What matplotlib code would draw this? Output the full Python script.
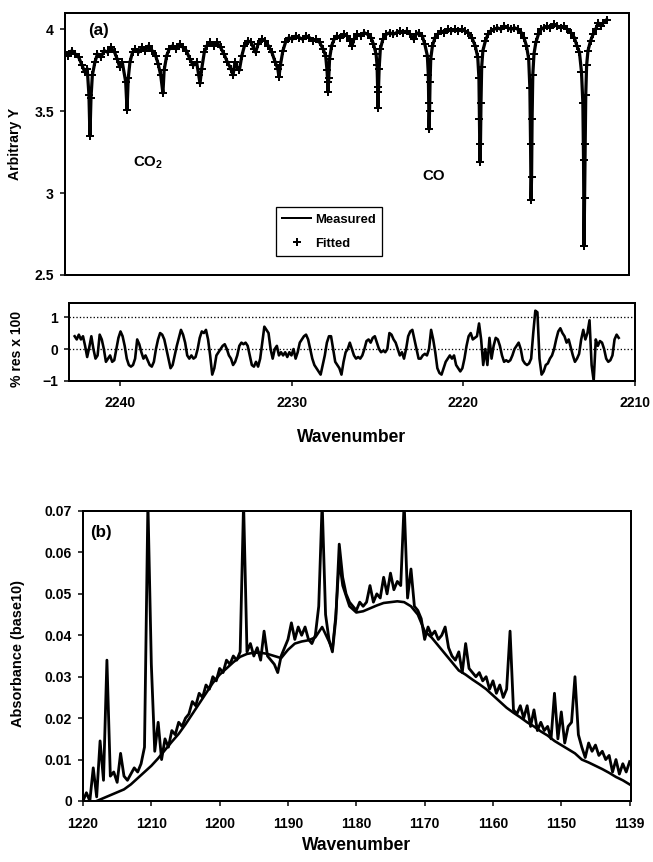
import numpy as np
import matplotlib.pyplot as plt

plt.rcParams['font.family'] = ['Liberation Sans', 'DejaVu Sans']
plt.rcParams['font.weight'] = 'bold'
plt.rcParams['mathtext.fontset'] = 'custom'
plt.rcParams['mathtext.rm'] = 'Liberation Sans:bold'
plt.rcParams['mathtext.bf'] = 'Liberation Sans:bold'
plt.rcParams['axes.linewidth'] = 2

# ---- (a) CO2 / CO spectrum, measured (line) and fitted (+) ----
top_wn = [2243.0, 2242.8, 2242.6, 2242.4, 2242.2, 2242.0, 2241.85, 2241.7, 2241.6, 2241.54, 2241.48, 2241.4, 2241.25, 2241.1,
          2240.9, 2240.7, 2240.5, 2240.3, 2240.1, 2239.95, 2239.8, 2239.65, 2239.45, 2239.37, 2239.3, 2239.2, 2239.05,
          2238.9, 2238.7, 2238.5, 2238.3, 2238.1, 2237.9, 2237.7, 2237.55, 2237.4, 2237.27, 2237.2, 2237.05,
          2236.9, 2236.7, 2236.5, 2236.3, 2236.1, 2235.9, 2235.7, 2235.5, 2235.3, 2235.18, 2235.1, 2235.0, 2234.85,
          2234.7, 2234.5, 2234.3, 2234.1, 2233.9, 2233.7, 2233.5, 2233.3, 2233.17, 2233.05, 2232.95, 2232.8, 2232.65,
          2232.5, 2232.3, 2232.1, 2231.95, 2231.85, 2231.7, 2231.5, 2231.3, 2231.1, 2230.9, 2230.7, 2230.55, 2230.48, 2230.4, 2230.25,
          2230.1, 2229.9, 2229.7, 2229.5, 2229.3, 2229.1, 2228.9, 2228.7, 2228.5, 2228.3, 2228.1, 2227.9, 2227.75, 2227.67, 2227.63, 2227.61, 2227.57, 2227.52, 2227.4,
          2227.25, 2227.1, 2226.9, 2226.7, 2226.5, 2226.3, 2226.2, 2226.1, 2225.9, 2225.7, 2225.5, 2225.3, 2225.1, 2224.95, 2224.8, 2224.74, 2224.71, 2224.69, 2224.66, 2224.62, 2224.55,
          2224.4, 2224.2, 2224.0, 2223.8, 2223.6, 2223.4, 2223.2, 2223.0, 2222.8, 2222.6, 2222.45, 2222.3, 2222.1, 2221.95, 2221.8, 2221.74, 2221.72, 2221.7, 2221.67, 2221.64, 2221.6, 2221.5,
          2221.35, 2221.2, 2221.0, 2220.8, 2220.6, 2220.4, 2220.2, 2220.0, 2219.8, 2219.6, 2219.4, 2219.2, 2219.0, 2218.85, 2218.78, 2218.75, 2218.72, 2218.69, 2218.66, 2218.62, 2218.55, 2218.4,
          2218.25, 2218.1, 2217.9, 2217.7, 2217.5, 2217.3, 2217.1, 2216.9, 2216.7, 2216.5, 2216.3, 2216.15, 2216.0, 2215.87, 2215.8, 2215.76, 2215.73, 2215.7, 2215.67, 2215.63, 2215.56, 2215.45,
          2215.3, 2215.15, 2215.0, 2214.8, 2214.6, 2214.4, 2214.2, 2214.0, 2213.8, 2213.6, 2213.4, 2213.2, 2213.05, 2212.9, 2212.78, 2212.7, 2212.66, 2212.63, 2212.6, 2212.57, 2212.53, 2212.48, 2212.4, 2212.25, 2212.1, 2211.95, 2211.8, 2211.65, 2211.5, 2211.3]
top_meas = [3.86, 3.84, 3.87, 3.85, 3.83, 3.78, 3.74, 3.76, 3.6, 3.35, 3.58, 3.72, 3.8, 3.85,
            3.83, 3.87, 3.86, 3.89, 3.86, 3.82, 3.77, 3.8, 3.68, 3.51, 3.7, 3.8, 3.86,
            3.88, 3.86, 3.89, 3.87, 3.9, 3.87, 3.84, 3.79, 3.72, 3.61, 3.75, 3.84,
            3.88, 3.9, 3.88, 3.91, 3.89, 3.87, 3.82, 3.78, 3.8, 3.72, 3.67, 3.76, 3.86,
            3.9, 3.92, 3.9, 3.92, 3.89, 3.85, 3.8, 3.76, 3.72, 3.8, 3.77, 3.75, 3.84,
            3.9, 3.93, 3.92, 3.88, 3.86, 3.91, 3.94, 3.93, 3.9, 3.86, 3.8, 3.76, 3.71, 3.78, 3.87,
            3.92, 3.95, 3.94, 3.96, 3.95, 3.94, 3.96, 3.95, 3.93, 3.94, 3.92, 3.88, 3.84, 3.75, 3.68, 3.62, 3.7, 3.82, 3.9,
            3.94, 3.96, 3.95, 3.97, 3.96, 3.93, 3.9, 3.94, 3.97, 3.96, 3.98, 3.97, 3.95, 3.91, 3.85, 3.78, 3.65, 3.52, 3.62, 3.76, 3.88,
            3.94, 3.97, 3.98, 3.97, 3.98, 3.99, 3.98, 3.99, 3.97, 3.94, 3.97, 3.98, 3.96, 3.91, 3.84, 3.72, 3.55, 3.39, 3.5, 3.68, 3.82, 3.9,
            3.95, 3.97, 3.99, 3.98, 4.0, 3.99, 4.0, 3.99, 4.0, 3.99, 3.98, 3.95, 3.9, 3.83, 3.7, 3.45, 3.19, 3.3, 3.55, 3.77, 3.87, 3.93,
            3.97, 3.99, 4.0, 4.01, 4.0, 4.02, 4.01, 4.0, 4.01, 4.0, 3.98, 3.95, 3.9, 3.82, 3.64, 3.3, 2.96, 3.1, 3.45, 3.72, 3.85, 3.92,
            3.97, 4.0, 4.01, 4.02, 4.01, 4.03, 4.02, 4.01, 4.02, 4.0, 3.98, 3.95, 3.9, 3.86, 3.74, 3.55, 3.2, 2.68, 2.97, 3.3, 3.6, 3.78, 3.87, 3.93, 3.97, 4.0, 4.04, 4.02, 4.04, 4.06]
# at this scale the fit sits right on the measurement
top_fit = top_meas

# residual, % res x 100, evenly sampled from 2242.67 to 2210.95
res_start, res_end = 2242.67, 2210.95
res_vals = [0.4, 0.3, 0.45, 0.3, 0.4, 0.1, -0.25, 0.05, 0.4, 0.0,
            -0.3, -0.2, 0.45, 0.3, 0.0, -0.4, -0.3, -0.2, -0.4, -0.35,
            0.0, 0.35, 0.55, 0.4, 0.1, -0.3, -0.5, -0.55, -0.5, -0.3,
            0.3, 0.15, -0.1, -0.3, -0.2, -0.35, -0.5, -0.55, -0.4, 0.0,
            0.3, 0.5, 0.45, 0.3, 0.0, -0.3, -0.6, -0.5, -0.2, 0.1,
            0.35, 0.6, 0.45, 0.2, -0.2, -0.3, -0.2, -0.3, -0.25, 0.0,
            0.35, 0.55, 0.5, 0.6, 0.3, -0.2, -0.8, -0.6, -0.2, -0.1,
            0.0, 0.1, 0.15, 0.0, -0.2, -0.3, -0.5, -0.4, -0.2, 0.1,
            0.2, 0.15, 0.2, 0.1, -0.2, -0.5, -0.55, -0.4, -0.55, -0.3,
            0.2, 0.7, 0.6, 0.5, 0.0, -0.3, 0.0, 0.1, -0.2, -0.1,
            -0.2, -0.1, -0.25, -0.1, -0.2, 0.0, -0.3, -0.1, 0.2, 0.3,
            0.4, 0.45, 0.3, 0.0, -0.3, -0.5, -0.6, -0.7, -0.8, -0.5,
            -0.2, 0.2, 0.4, 0.4, 0.0, -0.4, -0.5, -0.6, -0.8, -0.4,
            -0.1, 0.0, 0.2, 0.0, -0.2, -0.3, -0.25, -0.3, -0.2, 0.0,
            0.25, 0.3, 0.2, 0.35, 0.4, 0.2, 0.0, -0.1, -0.05, -0.1,
            0.0, 0.5, 0.45, 0.3, 0.2, 0.0, -0.2, -0.1, -0.3, 0.0,
            0.4, 0.55, 0.6, 0.3, 0.0, -0.3, -0.3, -0.2, -0.15, -0.2,
            0.0, 0.6, 0.3, -0.1, -0.6, -0.75, -0.8, -0.6, -0.4, -0.3,
            -0.2, -0.3, -0.2, -0.5, -0.6, -0.7, -0.6, -0.3, 0.1, 0.4,
            0.5, 0.3, 0.35, 0.4, 0.8, 0.3, -0.5, 0.0, -0.5, 0.35,
            -0.3, 0.1, 0.35, 0.3, 0.1, -0.2, -0.4, -0.35, -0.4, -0.35,
            -0.2, 0.0, 0.1, 0.2, 0.0, -0.35, -0.45, -0.5, -0.45, -0.3,
            0.5, 1.2, 1.15, -0.3, -0.8, -0.7, -0.5, -0.45, -0.3, -0.2,
            0.0, 0.3, 0.55, 0.65, 0.5, 0.4, 0.2, 0.3, 0.05, -0.2,
            -0.4, -0.3, -0.15, 0.3, 0.6, 0.3, 0.5, 0.9, -0.5, -1.0,
            0.3, 0.1, 0.25, 0.2, 0.0, -0.3, -0.4, -0.35, -0.2, 0.3,
            0.45, 0.35]

# ---- (b) absorbance, in units of 0.001 ----
# measured, every 0.5 cm-1 from 1220 down to 1140
b_start, b_end = 1220.0, 1140.0
b_meas = [0, 2, 0, 8, 1, 14.5, 5, 34, 6, 7,
          4.5, 11.5, 6, 5, 6.5, 8, 7, 9, 13, 72,
          33, 12, 19, 10, 15, 13, 17, 16, 19, 18,
          20, 21, 24, 23, 26, 25, 28, 27, 30, 29,
          32, 31, 34, 33, 35, 34, 36, 72, 36, 38,
          35, 37, 34, 41, 35, 34, 33, 31, 35, 37,
          39, 43, 39, 42, 40, 42, 39, 38, 40, 47,
          72, 45, 39, 36, 44, 62, 54, 50, 48, 47,
          46, 48, 47, 48, 52, 48, 50, 49, 54, 50,
          55, 51, 53, 52, 72, 49, 56, 47, 46, 44,
          39, 42, 40, 41, 39, 40, 42, 37, 35, 34,
          36, 31, 38, 32, 31, 30, 31, 29, 30, 27,
          29, 26, 28, 25, 27, 41, 22, 21, 23, 20,
          23, 18, 22, 17, 19, 17, 18, 15, 26, 15,
          21.5, 14, 18, 19, 30, 16, 13, 10.5, 14, 12,
          13.5, 11, 12, 10, 11, 7, 10, 6.5, 9, 7,
          9.5]
fit_wn = [1218, 1217, 1216, 1215, 1214, 1213, 1212, 1211, 1210, 1209,
          1208, 1207, 1206, 1205, 1204, 1203, 1202, 1201, 1200, 1199,
          1198, 1197, 1196, 1195, 1194, 1193, 1192, 1191, 1190, 1189,
          1188, 1187, 1186, 1185, 1184, 1183.5, 1183, 1182.5, 1182, 1181,
          1180, 1179, 1178, 1177, 1176, 1175, 1174, 1173, 1172, 1171,
          1170, 1169, 1168, 1167, 1166, 1165, 1164, 1163, 1162, 1161,
          1160, 1159, 1158, 1157, 1156, 1155, 1154, 1153, 1152, 1151,
          1150, 1149, 1148, 1147, 1146, 1145, 1144, 1143, 1142, 1141,
          1140, 1139.5]
fit_abs = [0, 0.7, 1.4, 2.1, 2.8, 4.0, 5.5, 7.0, 8.5, 10.3,
           12.3, 14.3, 16.2, 18.5, 21.0, 23.5, 26.0, 28.5, 30.5, 32.0,
           33.5, 34.8, 35.5, 35.8, 35.8, 35.5, 35.0, 34.5, 36.5, 38.0,
           38.5, 38.8, 39.5, 42.0, 38.5, 36.5, 45, 58, 52, 47,
           45.5, 45.8, 46.5, 47.2, 47.8, 48.0, 48.2, 48.0, 47.0, 45.0,
           41.0, 39.5, 37.5, 35.5, 33.5, 31.5, 30.5, 29.3, 28.2, 27.0,
           25.5, 24.0, 22.5, 21.3, 20.2, 19.0, 18.0, 16.8, 15.8, 14.5,
           13.5, 12.5, 11.5, 10.0, 9.3, 8.5, 7.7, 6.8, 5.8, 5.0,
           4.0, 3.5]

W, H = 653, 862
fig = plt.figure(figsize=(W / 72, H / 72), dpi=72)


def box(l, t, r, b):
    return [l / W, 1 - b / H, (r - l) / W, (b - t) / H]


ax1 = fig.add_axes(box(65, 13, 629, 275))
ax2 = fig.add_axes(box(69, 303, 635, 381))
ax3 = fig.add_axes(box(83, 511, 631, 801))

tick_kw = dict(direction='out', length=5, width=1.5, labelsize=14, pad=6)

# panel (a)
ax1.plot(top_wn, top_meas, color='k', lw=3.2, label='Measured')
ax1.plot(top_wn, top_fit, ls='none', marker='+', ms=8, mew=2, color='k', label='Fitted')
ax1.set_xlim(2243, 2210)
ax1.set_ylim(2.5, 4.1)
ax1.set_yticks([2.5, 3, 3.5, 4])
ax1.set_yticklabels(['2.5', '3', '3.5', '4'])
ax1.set_xticks([])
ax1.tick_params(axis='y', **tick_kw)
ax1.set_ylabel('Arbitrary Y', fontsize=14, fontweight='bold')
ax1.yaxis.set_label_coords(-0.076, 0.5)
ax1.text(88 / W, 1 - 31 / H, '(a)', transform=fig.transFigure, fontsize=17, fontweight='bold', va='center')
ax1.text(133 / W, 1 - 163 / H, 'CO$_2$', transform=fig.transFigure, fontsize=15, fontweight='bold', va='center')
ax1.text(422 / W, 1 - 176 / H, 'CO', transform=fig.transFigure, fontsize=15, fontweight='bold', va='center')
leg = ax1.legend(loc='lower left', bbox_to_anchor=(0.374, 0.0725), borderaxespad=0,
                 fancybox=False, edgecolor='k', framealpha=1, fontsize=13,
                 handlelength=2.2, labelspacing=0.9, borderpad=0.5, handletextpad=0.3)
leg.get_frame().set_linewidth(1.3)
leg.get_lines()[0].set_linewidth(2)

# residual panel
res_wn = np.linspace(res_start, res_end, len(res_vals))
ax2.plot(res_wn, res_vals, color='k', lw=2.6)
ax2.axhline(1, color='k', ls=':', lw=1.3)
ax2.axhline(0, color='k', ls=':', lw=1.3)
ax2.set_xlim(2243, 2210)
ax2.set_ylim(-1, 1.44)
ax2.set_yticks([-1, 0, 1])
ax2.set_xticks([2240, 2230, 2220, 2210])
ax2.tick_params(axis='both', **tick_kw)
ax2.tick_params(axis='x', pad=10)
ax2.set_ylabel('% res x 100', fontsize=14, fontweight='bold')
ax2.yaxis.set_label_coords(-0.08, 0.41)
ax2.set_xlabel('Wavenumber', fontsize=17.5, fontweight='bold')
ax2.xaxis.set_label_coords(0.5, -0.62)

# panel (b)
b_wn = np.linspace(b_start, b_end, len(b_meas))
ax3.plot(b_wn, np.array(b_meas) / 1000, color='k', lw=2.8)
ax3.plot(fit_wn, np.array(fit_abs) / 1000, color='k', lw=2.6)
ax3.set_xlim(1220, 1139.8)
ax3.set_ylim(0, 0.07)
ax3.set_xticks([1220, 1210, 1200, 1190, 1180, 1170, 1160, 1150, 1140])
ax3.set_xticklabels(['1220', '1210', '1200', '1190', '1180', '1170', '1160', '1150', '1139'])
ax3.set_yticks([0, 0.01, 0.02, 0.03, 0.04, 0.05, 0.06, 0.07])
ax3.set_yticklabels(['0', '0.01', '0.02', '0.03', '0.04', '0.05', '0.06', '0.07'])
ax3.tick_params(axis='both', **tick_kw)
ax3.tick_params(axis='x', pad=11)
ax3.set_ylabel('Absorbance (base10)', fontsize=14.5, fontweight='bold')
ax3.yaxis.set_label_coords(-0.106, 0.507)
ax3.set_xlabel('Wavenumber', fontsize=17.5, fontweight='bold')
ax3.xaxis.set_label_coords(0.5, -0.125)
ax3.text(90 / W, 1 - 532 / H, '(b)', transform=fig.transFigure, fontsize=17, fontweight='bold', va='center')

fig.savefig('out.png', dpi=72)
